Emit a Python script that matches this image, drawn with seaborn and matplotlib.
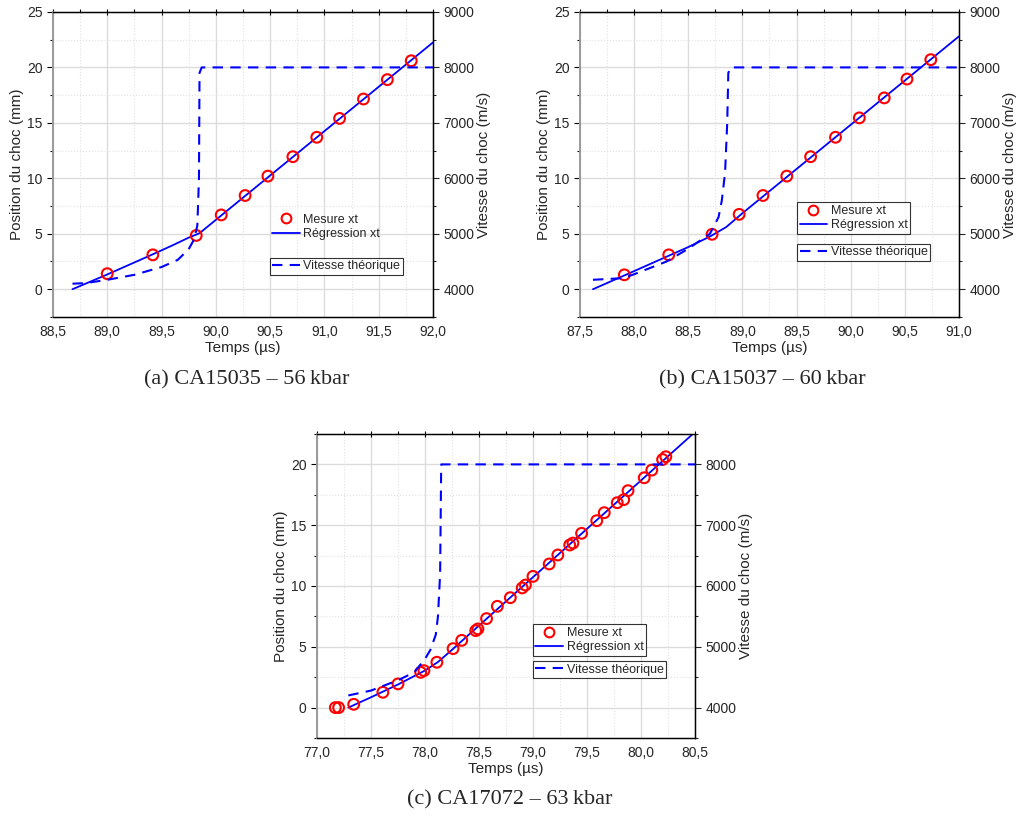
import numpy as np
import pandas as pd
import matplotlib
matplotlib.use("Agg")
import matplotlib.pyplot as plt
import seaborn as sns
from matplotlib.ticker import MultipleLocator, FuncFormatter
from matplotlib.lines import Line2D

# --- data ---
# (a) CA15035 - 56 kbar
a_t = [89.00, 89.42, 89.82, 90.05, 90.27, 90.48, 90.71, 90.93, 91.14, 91.36, 91.58, 91.80]
a_x = [1.4, 3.1, 4.85, 6.7, 8.45, 10.2, 11.95, 13.7, 15.4, 17.15, 18.9, 20.6]
a_reg_t = [88.68, 89.00, 89.42, 89.60, 89.75, 89.85, 90.05, 92.00]
a_reg_x = [0.0, 1.33, 3.15, 3.95, 4.65, 5.05, 6.65, 22.25]
a_vth_t = [88.68, 88.80, 89.00, 89.25, 89.50, 89.65, 89.75, 89.80, 89.83, 89.845, 89.85, 89.87, 92.00]
a_vth_v = [4100, 4110, 4170, 4260, 4400, 4530, 4720, 4900, 5150, 6000, 7900, 8000, 8000]

# (b) CA15037 - 60 kbar
b_t = [87.91, 88.32, 88.72, 88.97, 89.19, 89.41, 89.63, 89.86, 90.08, 90.31, 90.52, 90.74]
b_x = [1.3, 3.1, 4.95, 6.75, 8.45, 10.2, 11.95, 13.7, 15.45, 17.25, 18.95, 20.7]
b_reg_t = [87.62, 87.90, 88.20, 88.50, 88.70, 88.85, 89.00, 91.00]
b_reg_x = [0.0, 1.2, 2.5, 3.8, 4.75, 5.6, 6.85, 22.8]
b_vth_t = [87.62, 87.90, 88.00, 88.30, 88.50, 88.70, 88.78, 88.81, 88.84, 88.86, 88.87, 88.89, 91.00]
b_vth_v = [4170, 4200, 4270, 4500, 4730, 5000, 5300, 5600, 6100, 7000, 7900, 8000, 8000]

# (c) CA17072 - 63 kbar
c_t = [77.17, 77.20, 77.34, 77.61, 77.75, 77.96, 77.99, 78.11, 78.26, 78.34, 78.47, 78.49,
       78.57, 78.67, 78.79, 78.90, 78.93, 79.00, 79.15, 79.23, 79.34, 79.37, 79.45, 79.59,
       79.66, 79.78, 79.84, 79.88, 80.03, 80.10, 80.20, 80.23]
c_x = [0.0, 0.0, 0.27, 1.26, 1.95, 2.9, 3.04, 3.73, 4.85, 5.53, 6.33, 6.47,
       7.32, 8.33, 9.04, 9.84, 10.08, 10.79, 11.81, 12.55, 13.37, 13.53, 14.33, 15.37,
       16.03, 16.85, 17.1, 17.84, 18.9, 19.53, 20.4, 20.63]
c_reg_t = [77.29, 77.50, 77.75, 78.00, 78.12, 78.25, 78.40, 80.48]
c_reg_x = [0.0, 0.85, 1.9, 3.05, 3.75, 4.75, 5.95, 22.5]
c_vth_t = [77.29, 77.50, 77.75, 77.90, 78.00, 78.05, 78.10, 78.12, 78.14, 78.15, 80.50]
c_vth_v = [4200, 4280, 4450, 4580, 4800, 4950, 5200, 5500, 6200, 8000, 8000]

captions = ["(a) CA15035 \u2013 56\u2009kbar", "(b) CA15037 \u2013 60\u2009kbar", "(c) CA17072 \u2013 63\u2009kbar"]

sns.set_style("white")
plt.rcParams['font.family'] = ['Liberation Sans', 'DejaVu Sans']

BLUE = "#0000ff"
comma = FuncFormatter(lambda v, p: f"{v:.1f}".replace(".", ","))

fig = plt.figure(figsize=(10.18, 8.19), dpi=100)

panels = [
    dict(rect=[0.052, 0.613, 0.3733, 0.3724], t=a_t, x=a_x, rt=a_reg_t, rx=a_reg_x,
         vt=a_vth_t, vv=a_vth_v, xlim=(88.5, 92.0), ylim=(-2.5, 25),
         leg1=(0.57, 0.243), leg2=(0.57, 0.138), frame1=False),
    dict(rect=[0.5697, 0.613, 0.3723, 0.3724], t=b_t, x=b_x, rt=b_reg_t, rx=b_reg_x,
         vt=b_vth_t, vv=b_vth_v, xlim=(87.5, 91.0), ylim=(-2.5, 25),
         leg1=(0.573, 0.272), leg2=(0.573, 0.184), frame1=True),
    dict(rect=[0.3114, 0.0989, 0.3713, 0.3712], t=c_t, x=c_x, rt=c_reg_t, rx=c_reg_x,
         vt=c_vth_t, vv=c_vth_v, xlim=(77.0, 80.5), ylim=(-2.5, 22.5),
         leg1=(0.571, 0.27), leg2=(0.571, 0.197), frame1=True),
]

for p in panels:
    ax = fig.add_axes(p["rect"])
    ax2 = ax.twinx()

    sns.lineplot(x=p["rt"], y=p["rx"], ax=ax, color=BLUE, lw=1.3, estimator=None, sort=False)
    sns.scatterplot(x=p["t"], y=p["x"], ax=ax, marker="o", s=60, facecolors="none",
                    edgecolor="red", linewidth=1.5, zorder=5)
    sns.lineplot(x=p["vt"], y=p["vv"], ax=ax2, color=BLUE, lw=1.5, estimator=None,
                 sort=False, dashes=False, linestyle=(0, (5, 3.5)))

    ax.set_xlim(*p["xlim"])
    ax.set_ylim(*p["ylim"])
    ax2.set_ylim(p["ylim"][0] * 200 + 4000, p["ylim"][1] * 200 + 4000)

    ax.xaxis.set_major_locator(MultipleLocator(0.5))
    ax.xaxis.set_minor_locator(MultipleLocator(0.25))
    ax.xaxis.set_major_formatter(comma)
    ax.yaxis.set_major_locator(MultipleLocator(5))
    ax.yaxis.set_minor_locator(MultipleLocator(2.5))
    ax2.yaxis.set_major_locator(MultipleLocator(1000))
    ax2.yaxis.set_minor_locator(MultipleLocator(500))

    ax.grid(True, which="major", color="#dcdcdc", lw=1.0)
    ax.grid(True, which="minor", color="#e2e2e2", lw=0.8, linestyle=":")
    ax.set_axisbelow(True)

    ax.tick_params(axis="both", which="major", direction="out", length=4, width=0.8,
                   labelsize=10, color="black", top=True)
    ax.tick_params(axis="x", which="both", top=True)
    ax.tick_params(axis="x", which="major", direction="inout", length=5)
    ax.tick_params(axis="both", which="minor", direction="out", length=2.5, width=0.8, color="black")
    ax2.tick_params(axis="y", which="major", direction="out", length=4, width=0.8, labelsize=10)
    ax2.tick_params(axis="y", which="minor", direction="out", length=2.5, width=0.8)

    for s in ["top", "bottom", "right"]:
        ax.spines[s].set_color("black")
        ax2.spines[s].set_color("black")
        ax2.spines[s].set_linewidth(1.0)
    ax.spines["left"].set_color("#9a9a9a")
    ax.spines["left"].set_linewidth(1.4)
    ax2.spines["left"].set_visible(False)

    ax.set_xlabel("Temps (\u00b5s)", fontsize=11, labelpad=1)
    ax.set_ylabel("Position du choc (mm)", fontsize=11, labelpad=2)
    ax2.set_ylabel("Vitesse du choc (m/s)", fontsize=11, labelpad=2)

    h1 = [Line2D([], [], marker="o", ls="none", mfc="none", mec="red", mew=1.5, ms=7),
          Line2D([], [], color=BLUE, lw=1.3)]
    h2 = [Line2D([], [], color=BLUE, lw=1.5, ls=(0, (5, 3.5)))]
    leg1 = ax2.legend(h1, ["Mesure xt", "R\u00e9gression xt"], loc="lower left",
                      bbox_to_anchor=p["leg1"], fontsize=9, frameon=p["frame1"],
                      fancybox=False, edgecolor="black", borderpad=0.2, handlelength=2.2,
                      handletextpad=0.3, labelspacing=0.2, borderaxespad=0)
    leg1.get_frame().set_linewidth(0.8)
    ax2.add_artist(leg1)
    leg2 = ax2.legend(h2, ["Vitesse th\u00e9orique"], loc="lower left",
                      bbox_to_anchor=p["leg2"], fontsize=9, frameon=True,
                      fancybox=False, edgecolor="black", borderpad=0.2, handlelength=2.2,
                      handletextpad=0.3, borderaxespad=0)
    leg2.get_frame().set_linewidth(0.8)

fig.text(0.2426, 0.536, captions[0], ha="center", va="center", fontsize=16, family="Liberation Serif")
fig.text(0.7485, 0.536, captions[1], ha="center", va="center", fontsize=16, family="Liberation Serif")
fig.text(0.501, 0.023, captions[2], ha="center", va="center", fontsize=16, family="Liberation Serif")

fig.savefig("out.png", dpi=100)
